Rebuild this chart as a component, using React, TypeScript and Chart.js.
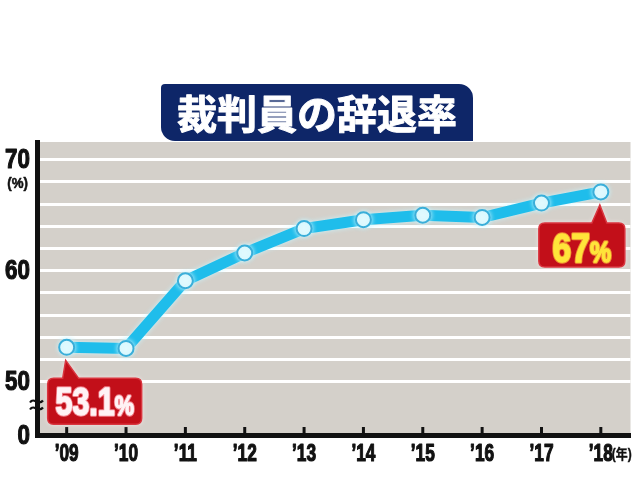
import React, { useEffect, useRef } from 'react';
import { Chart, registerables } from 'chart.js';

Chart.register(...registerables);

// ---------- data ----------
const TITLE = '裁判員の辞退率';
const CATEGORIES = ['’09', '’10', '’11', '’12', '’13', '’14', '’15', '’16', '’17', '’18'];
const DECLINE_RATE = [53.1, 53.0, 59.1, 61.6, 63.8, 64.6, 65.0, 64.8, 66.1, 67.1];
const Y_MIN = 45.2; // broken axis: bottom shown as "0"
const Y_MAX = 71.6;
const Y_GRID_VALUES = [50, 52, 54, 56, 58, 60, 62, 64, 66, 68, 70];
const Y_LABEL_VALUES = [70, 60, 50];
const Y_LABEL_TEXTS = ['70', '60', '50'];
const Y_UNIT_VALUE = 68;
const Y_UNIT_TEXT = '(%)';
const Y_ZERO_LABEL = '0';
const X_UNIT = '(年)';
const CALLOUT_FIRST = { index: 0, main: '53.1', unit: '%' };
const CALLOUT_LAST = { index: 9, main: '67', unit: '%' };

const SANS = '"Liberation Sans", Arial, sans-serif';
const CJK = '"Noto Sans CJK JP", "Noto Sans CJK SC", sans-serif';

function narrowText(ctx: CanvasRenderingContext2D, text: string, x: number, y: number, font: string,
  sx: number, align: CanvasTextAlign, baseline: CanvasTextBaseline, color: string, heavy = 0) {
  ctx.save();
  ctx.translate(x, y);
  ctx.scale(sx, 1);
  ctx.font = font;
  ctx.textAlign = align;
  ctx.textBaseline = baseline;
  ctx.fillStyle = color;
  if (heavy > 0) {
    ctx.strokeStyle = color;
    ctx.lineWidth = heavy;
    ctx.lineJoin = 'round';
    ctx.strokeText(text, 0, 0);
  }
  ctx.fillText(text, 0, 0);
  ctx.restore();
}

function calloutPath(ctx: CanvasRenderingContext2D, x: number, y: number, w: number, h: number, r: number,
  bx1: number, bx2: number, ax: number, ay: number) {
  ctx.beginPath();
  ctx.moveTo(x + r, y);
  ctx.lineTo(bx1, y);
  ctx.lineTo(ax, ay);
  ctx.lineTo(bx2, y);
  ctx.lineTo(x + w - r, y);
  ctx.quadraticCurveTo(x + w, y, x + w, y + r);
  ctx.lineTo(x + w, y + h - r);
  ctx.quadraticCurveTo(x + w, y + h, x + w - r, y + h);
  ctx.lineTo(x + r, y + h);
  ctx.quadraticCurveTo(x, y + h, x, y + h - r);
  ctx.lineTo(x, y + r);
  ctx.quadraticCurveTo(x, y, x + r, y);
  ctx.closePath();
}

function drawCallout(ctx: CanvasRenderingContext2D, box: { x: number; y: number; w: number; h: number },
  ptr: { bx1: number; bx2: number; ax: number; ay: number }, main: string, unit: string,
  mainSize: number, unitSize: number, sx: number, baseline: number, color: string, glow: string) {
  ctx.save();
  calloutPath(ctx, box.x, box.y, box.w, box.h, 6, ptr.bx1, ptr.bx2, ptr.ax, ptr.ay);
  ctx.shadowColor = 'rgba(255,235,235,0.95)';
  ctx.shadowBlur = 5;
  ctx.fillStyle = '#c20f19';
  ctx.fill();
  ctx.shadowBlur = 0;
  ctx.strokeStyle = '#d9353f';
  ctx.lineWidth = 1.5;
  ctx.stroke();

  ctx.font = `bold ${mainSize}px ${SANS}`;
  const w1 = ctx.measureText(main).width * sx;
  ctx.font = `bold ${unitSize}px ${SANS}`;
  const w2 = ctx.measureText(unit).width * sx;
  const start = box.x + box.w / 2 - (w1 + w2) / 2;
  const parts: [string, number, number][] = [[main, mainSize, start], [unit, unitSize, start + w1]];
  for (const [t, size, px] of parts) {
    ctx.save();
    ctx.translate(px, baseline);
    ctx.scale(sx, 1);
    ctx.font = `bold ${size}px ${SANS}`;
    ctx.textAlign = 'left';
    ctx.textBaseline = 'alphabetic';
    ctx.lineJoin = 'round';
    ctx.strokeStyle = glow;
    ctx.lineWidth = 3.5;
    ctx.strokeText(t, 0, 0);
    ctx.strokeStyle = color;
    ctx.lineWidth = 1.3;
    ctx.strokeText(t, 0, 0);
    ctx.fillStyle = color;
    ctx.fillText(t, 0, 0);
    ctx.restore();
  }
  ctx.restore();
}

const decorPlugin = {
  id: 'decor',
  beforeDraw(chart: any) {
    const { ctx, chartArea } = chart;
    ctx.save();
    ctx.fillStyle = '#d4d0ca';
    ctx.fillRect(chartArea.left, chartArea.top, chartArea.right - chartArea.left, chartArea.bottom - chartArea.top);
    ctx.restore();
  },
  beforeDatasetsDraw(chart: any) {
    const { ctx, chartArea } = chart;
    const xs = chart.scales.x;
    ctx.save();
    ctx.strokeStyle = '#111';
    ctx.lineWidth = 3;
    for (let i = 0; i < CATEGORIES.length; i++) {
      const px = xs.getPixelForValue(i);
      ctx.beginPath();
      ctx.moveTo(px, chartArea.bottom);
      ctx.lineTo(px, chartArea.bottom - 8);
      ctx.stroke();
    }
    ctx.restore();
  },
  beforeDatasetDraw(chart: any) {
    chart.ctx.save();
    chart.ctx.shadowColor = 'rgba(200,245,255,0.95)';
    chart.ctx.shadowBlur = 5;
  },
  afterDatasetDraw(chart: any) {
    chart.ctx.restore();
  },
  afterDatasetsDraw(chart: any) {
    const { ctx } = chart;
    const meta = chart.getDatasetMeta(0);
    const p0 = meta.data[CALLOUT_FIRST.index];
    const p9 = meta.data[CALLOUT_LAST.index];
    drawCallout(ctx,
      { x: p0.x - 19, y: p0.y + 31, w: 94, h: 46 },
      { bx1: p0.x - 4, bx2: p0.x + 12, ax: p0.x - 1, ay: p0.y + 13 },
      CALLOUT_FIRST.main, CALLOUT_FIRST.unit, 38, 27, 0.8, p0.y + 68, '#fff3f5', 'rgba(245,140,150,0.9)');
    drawCallout(ctx,
      { x: p9.x - 62, y: p9.y + 31, w: 86, h: 44 },
      { bx1: p9.x - 9, bx2: p9.x + 6, ax: p9.x - 1, ay: p9.y + 13 },
      CALLOUT_LAST.main, CALLOUT_LAST.unit, 41, 29, 0.82, p9.y + 70, '#ffe43a', 'rgba(255,190,60,0.7)');
  },
  afterDraw(chart: any) {
    const { ctx, chartArea } = chart;
    const xs = chart.scales.x;
    const ys = chart.scales.y;
    ctx.save();
    // y labels
    const labelRight = chartArea.left - 7;
    Y_LABEL_VALUES.forEach((v, i) => {
      narrowText(ctx, Y_LABEL_TEXTS[i], labelRight, ys.getPixelForValue(v) + 1, `bold 28px ${SANS}`, 0.8, 'right', 'middle', '#111', 1.2);
    });
    narrowText(ctx, Y_ZERO_LABEL, labelRight, ys.getPixelForValue(Y_MIN) + 1, `bold 28px ${SANS}`, 0.8, 'right', 'middle', '#111', 1.2);
    narrowText(ctx, Y_UNIT_TEXT, labelRight - 2, ys.getPixelForValue(Y_UNIT_VALUE) + 2, `bold 14px ${SANS}`, 0.95, 'right', 'middle', '#111', 0.5);
    // x labels
    CATEGORIES.forEach((c, i) => {
      narrowText(ctx, c, xs.getPixelForValue(i), 454, `bold 24px ${SANS}`, 0.72, 'center', 'middle', '#111', 1.2);
    });
    narrowText(ctx, X_UNIT, xs.getPixelForValue(CATEGORIES.length - 1) + 11, 455, `bold 14px ${SANS}, ${CJK}`, 0.85, 'left', 'middle', '#111', 0.4);
    // broken-axis mark
    const bx = chartArea.left;
    const by = 405;
    ctx.strokeStyle = '#111';
    ctx.lineWidth = 2.2;
    for (const off of [-3.5, 3.5]) {
      ctx.beginPath();
      ctx.moveTo(bx - 7, by + off + 1);
      ctx.bezierCurveTo(bx - 3, by + off - 5, bx + 1, by + off + 5, bx + 6, by + off - 1);
      ctx.stroke();
    }
    // title box
    ctx.beginPath();
    (ctx as any).roundRect(161, 84, 312, 57, [4, 14, 0, 14]);
    ctx.fillStyle = '#0e2668';
    ctx.fill();
    ctx.fillStyle = '#ffffff';
    ctx.strokeStyle = '#ffffff';
    ctx.lineWidth = 1;
    ctx.lineJoin = 'round';
    ctx.font = `bold 40px ${CJK}`;
    ctx.textAlign = 'center';
    ctx.textBaseline = 'middle';
    ctx.strokeText(TITLE, 317, 114);
    ctx.fillText(TITLE, 317, 114);
    ctx.restore();
  },
};

export default function App() {
  const ref = useRef<HTMLCanvasElement | null>(null);
  useEffect(() => {
    document.body.style.margin = '0';
    const canvas = ref.current!;
    const chart = new Chart(canvas, {
      type: 'line',
      data: {
        labels: CATEGORIES,
        datasets: [{
          data: DECLINE_RATE,
          borderColor: '#1fbdeb',
          borderWidth: 11,
          tension: 0,
          pointRadius: 7.5,
          pointHoverRadius: 7.5,
          pointBackgroundColor: '#e2fafe',
          pointBorderColor: '#3aaed9',
          pointBorderWidth: 2,
        }],
      },
      options: {
        responsive: false,
        animation: false,
        events: [],
        layout: { padding: { top: 142, right: 6, left: 0, bottom: 0 } },
        plugins: { legend: { display: false }, tooltip: { enabled: false }, title: { display: false } },
        scales: {
          x: {
            type: 'category',
            offset: true,
            grid: { drawOnChartArea: false, drawTicks: false, offset: false },
            border: { display: true, color: '#111', width: 5 },
            ticks: { display: false, autoSkip: false, maxRotation: 0 },
            afterFit: (s: any) => { s.height = 45; },
          },
          y: {
            type: 'linear',
            min: Y_MIN,
            max: Y_MAX,
            afterBuildTicks: (s: any) => {
              s.ticks = [Y_MIN, ...Y_GRID_VALUES].map((v) => ({ value: v }));
            },
            grid: {
              drawTicks: false,
              lineWidth: 3,
              color: (c: any) => (c.tick && c.tick.value >= 50 ? '#ffffff' : 'rgba(0,0,0,0)'),
            },
            border: { display: true, color: '#111', width: 5 },
            ticks: { display: false, autoSkip: false },
            afterFit: (s: any) => { s.width = 37; },
          },
        },
      },
      plugins: [decorPlugin],
    } as any);
    return () => chart.destroy();
  }, []);
  return (
    <div style={{ width: 640, height: 480 }}>
      <canvas ref={ref} width={640} height={480} />
    </div>
  );
}
